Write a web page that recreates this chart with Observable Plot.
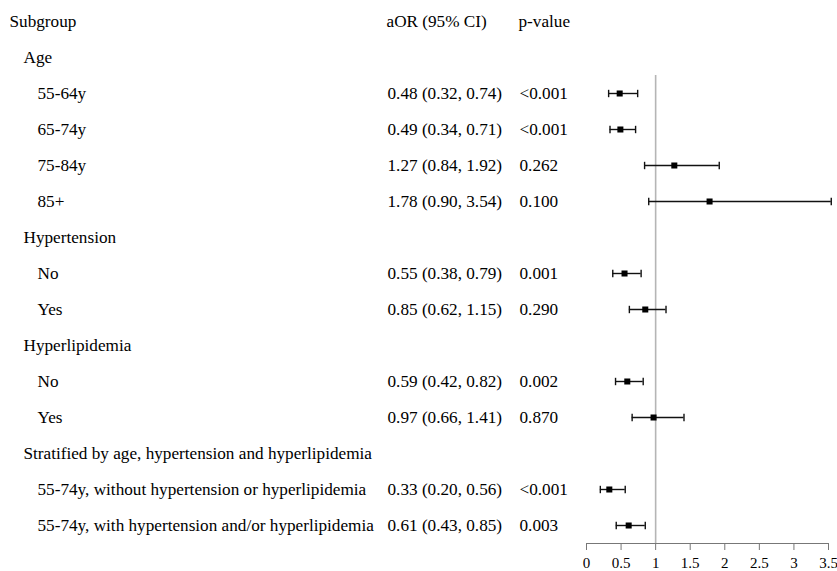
<!DOCTYPE html>
<html>
<head>
<meta charset="utf-8">
<script src="https://cdn.jsdelivr.net/npm/d3@7"></script>
<script src="https://cdn.jsdelivr.net/npm/@observablehq/plot@0.6"></script>
<style>
  html, body { margin: 0; padding: 0; background: #fff; }
  #chart svg, #chart svg text { font-family: "Liberation Serif", "DejaVu Serif", serif !important; }
</style>
</head>
<body>
<div id="chart"></div>
<script>
// ---- data ----
const headers = ["Subgroup", "aOR (95% CI)", "p-value"];
const labels = ["Age", "55-64y", "65-74y", "75-84y", "85+",
  "Hypertension", "No", "Yes",
  "Hyperlipidemia", "No", "Yes",
  "Stratified by age, hypertension and hyperlipidemia",
  "55-74y, without hypertension or hyperlipidemia",
  "55-74y, with hypertension and/or hyperlipidemia"];
const levels = [1, 2, 2, 2, 2, 1, 2, 2, 1, 2, 2, 1, 2, 2];
const aor   = [null, 0.48, 0.49, 1.27, 1.78, null, 0.55, 0.85, null, 0.59, 0.97, null, 0.33, 0.61];
const lower = [null, 0.32, 0.34, 0.84, 0.90, null, 0.38, 0.62, null, 0.42, 0.66, null, 0.20, 0.43];
const upper = [null, 0.74, 0.71, 1.92, 3.54, null, 0.79, 1.15, null, 0.82, 1.41, null, 0.56, 0.85];
const ciText = [null, "0.48 (0.32, 0.74)", "0.49 (0.34, 0.71)", "1.27 (0.84, 1.92)", "1.78 (0.90, 3.54)",
  null, "0.55 (0.38, 0.79)", "0.85 (0.62, 1.15)",
  null, "0.59 (0.42, 0.82)", "0.97 (0.66, 1.41)",
  null, "0.33 (0.20, 0.56)", "0.61 (0.43, 0.85)"];
const pText = [null, "<0.001", "<0.001", "0.262", "0.100",
  null, "0.001", "0.290",
  null, "0.002", "0.870",
  null, "<0.001", "0.003"];
const xTicks = [0, 0.5, 1, 1.5, 2, 2.5, 3, 3.5];
const nullValue = 1;

// ---- table built from arrays ----
const rows = labels.map((label, i) => ({
  row: i + 1, label, level: levels[i], aor: aor[i], lo: lower[i], hi: upper[i],
  ci: ciText[i], p: pText[i]
}));
const est = rows.filter(d => d.aor != null);
const headerRow = [{row: 0}];
const nRows = rows.length;
const axisRow = nRows + 0.5;
const refStart = 1.5;

const capSymbol = {
  draw(context, size) {
    const h = Math.sqrt(size / Math.PI);
    context.moveTo(0, -h);
    context.lineTo(0, h);
  }
};

const font = "Liberation Serif, DejaVu Serif, serif";
const txt = { frameAnchor: "left", textAnchor: "start", fontFamily: font, fontSize: 17.2, fill: "#000" };

const chart = Plot.plot({
  width: 837,
  height: 571,
  marginLeft: 0, marginRight: 0, marginTop: 0, marginBottom: 0,
  style: { fontFamily: font, fontSize: "17px", color: "#000", background: "#fff", overflow: "visible" },
  x: { domain: [xTicks[0], xTicks[xTicks.length - 1]], range: [586, 828] },
  y: { domain: [0, axisRow], range: [21, 543], axis: null },
  marks: [
    // header
    Plot.text(headerRow, { ...txt, y: "row", text: () => headers[0], dx: 9 }),
    Plot.text(headerRow, { ...txt, y: "row", text: () => headers[1], dx: 386 }),
    Plot.text(headerRow, { ...txt, y: "row", text: () => headers[2], dx: 518 }),
    // subgroup labels
    Plot.text(rows.filter(d => d.level === 1), { ...txt, y: "row", text: "label", dx: 23 }),
    Plot.text(rows.filter(d => d.level === 2), { ...txt, y: "row", text: "label", dx: 37 }),
    Plot.text(est, { ...txt, y: "row", text: "ci", dx: 387 }),
    Plot.text(est, { ...txt, y: "row", text: "p", dx: 519 }),
    // reference line
    Plot.ruleX([nullValue], { y1: refStart, y2: axisRow, stroke: "#b5b5b5", strokeWidth: 1.6 }),
    // axis line
    Plot.ruleY([axisRow], { x1: xTicks[0], x2: xTicks[xTicks.length - 1], stroke: "#777", strokeWidth: 1.2 }),
    Plot.axisX({ ticks: xTicks, tickSize: 7, tickPadding: 7, fontSize: 15, fontFamily: font, stroke: "#777", tickFormat: d => String(d), anchor: "bottom", y: axisRow, color: "#000", fill: "#000" }),
    // CIs
    Plot.ruleY(est, { y: "row", x1: "lo", x2: "hi", stroke: "#111", strokeWidth: 1.4 }),
    Plot.dot(est, { x: "lo", y: "row", symbol: capSymbol, r: 3.7, stroke: "#111", strokeWidth: 1.4, fill: "none" }),
    Plot.dot(est, { x: "hi", y: "row", symbol: capSymbol, r: 3.7, stroke: "#111", strokeWidth: 1.4, fill: "none" }),
    Plot.dot(est, { x: "aor", y: "row", symbol: "square", r: 3.4, fill: "#000", stroke: "none" })
  ]
});
document.getElementById("chart").appendChild(chart);
</script>
</body>
</html>
